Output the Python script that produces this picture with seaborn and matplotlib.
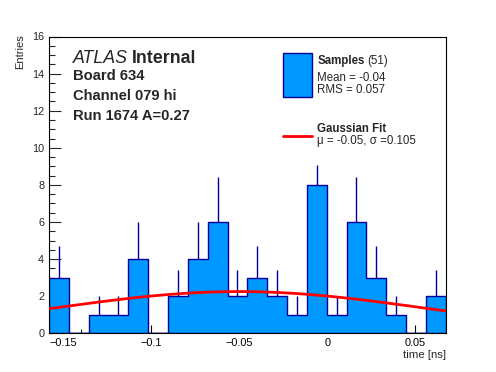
import numpy as np
import pandas as pd
import matplotlib
matplotlib.use("Agg")
import matplotlib.pyplot as plt
import seaborn as sns
from matplotlib.patches import Rectangle
from matplotlib.lines import Line2D
from matplotlib.ticker import MultipleLocator

# ---- data ----
x_min = -0.158
x_max = 0.0673
n_bins = 20
counts = [3, 0, 1, 1, 4, 0, 2, 4, 6, 2, 3, 2, 1, 8, 1, 6, 3, 1, 0, 2]
errors = [1.73, 0, 1.0, 1.0, 2.0, 0, 1.41, 2.0, 2.45, 1.41,
          1.73, 1.41, 1.0, 1.05, 1.0, 2.45, 1.73, 1.0, 0, 1.41]
fit_amp = 2.25
fit_mu = -0.05
fit_sigma = 0.105
x_ticks = [-0.15, -0.1, -0.05, 0, 0.05]
y_ticks = [0, 2, 4, 6, 8, 10, 12, 14, 16]

fill_c = "#0099ff"
edge_c = "#000099"

sns.set_style("ticks")
plt.rcParams["font.family"] = ["Liberation Sans", "DejaVu Sans"]

W, H = 496, 372
fig = plt.figure(figsize=(W / 100, H / 100), dpi=100)
ax = fig.add_axes([49 / W, 1 - 333.3 / H, (445.7 - 49) / W, (333.3 - 36.5) / H])

edges = np.linspace(x_min, x_max, n_bins + 1)
centers = 0.5 * (edges[:-1] + edges[1:])
df = pd.DataFrame({"time": centers, "n": counts, "err": errors})

sns.histplot(data=df, x="time", weights="n", bins=list(edges), element="step",
             fill=True, color=fill_c, edgecolor=edge_c, linewidth=1.0,
             alpha=1.0, ax=ax, legend=False)
for coll in ax.collections:
    coll.set_facecolor(fill_c)
    coll.set_alpha(1.0)
    coll.set_edgecolor(edge_c)
    coll.set_linewidth(1.0)

nz = df[df["err"] > 0]
ax.vlines(nz["time"], nz["n"], nz["n"] + nz["err"], color=edge_c, linewidth=1.0, zorder=3)

xf = np.linspace(x_min, x_max, 300)
yf = fit_amp * np.exp(-0.5 * ((xf - fit_mu) / fit_sigma) ** 2)
ax.plot(xf, yf, color="#ff0000", linewidth=2.0, zorder=4)

ax.set_xlim(x_min, x_max)
ax.set_ylim(0, 16)
ax.set_xticks(x_ticks)
ax.set_yticks(y_ticks)
ax.xaxis.set_minor_locator(MultipleLocator(0.01))
ax.yaxis.set_minor_locator(MultipleLocator(0.5))
ax.tick_params(axis="x", which="major", direction="in", length=6, width=0.8,
               labelsize=7.8, pad=3.5, colors="black")
ax.tick_params(axis="x", which="minor", direction="in", length=3, width=0.8)
ax.tick_params(axis="y", which="major", direction="in", length=8.5, width=0.8,
               labelsize=7.8, pad=3.5)
ax.tick_params(axis="y", which="minor", direction="in", length=4.5, width=0.8)
ax.xaxis.set_major_formatter(matplotlib.ticker.FuncFormatter(
    lambda v, p: ("\u2212" if v < 0 else "") + ("%g" % abs(v))))
for s in ax.spines.values():
    s.set_linewidth(0.8)
    s.set_color("black")

ax.set_xlabel("")
ax.set_ylabel("")

renderer = fig.canvas.get_renderer()

def ft(x, y, s, **kw):
    return fig.text(x / W, 1 - y / H, s, va="baseline", **kw)

def width_px(t):
    return t.get_window_extent(renderer=renderer).width

# axis titles
fig.text(445.7 / W, 1 - 358.5 / H, "time [ns]", ha="right", va="baseline", fontsize=8.2)
fig.text(20.5 / W, 1 - 34 / H, "Entries", rotation=90, ha="center", va="top", fontsize=8)

# ATLAS label block
t_atlas = ft(73.3, 62.7, "ATLAS", fontsize=12.8, style="italic")
ft(73.3 + width_px(t_atlas) + 4, 62.7, "Internal", fontsize=12.8, weight="bold")
ft(73.3, 80.5, "Board 634", fontsize=10.6, weight="bold")
ft(73.3, 100, "Channel 079 hi", fontsize=10.6, weight="bold")
ft(73.3, 119.5, "Run 1674 A=0.27", fontsize=10.6, weight="bold")

# legend (drawn manually)
fig.patches.append(Rectangle((283.3 / W, 1 - 96.7 / H), (311.7 - 283.3) / W, (96.7 - 53.3) / H,
                             transform=fig.transFigure, facecolor=fill_c, edgecolor=edge_c,
                             linewidth=1.0))
fig.lines.append(Line2D([283.3 / W, 311.7 / W], [1 - 136 / H, 1 - 136 / H],
                        transform=fig.transFigure, color="#ff0000", linewidth=2.0))
t_s = ft(317.3, 64.3, "Samples", fontsize=8.3, weight="bold")
ft(317.3 + width_px(t_s) + 2.5, 64.3, "(51)", fontsize=8.3)
ft(317.3, 80.7, "Mean = -0.04", fontsize=8.3)
ft(317.3, 93.3, "RMS = 0.057", fontsize=8.3)
ft(317.3, 131.7, "Gaussian Fit", fontsize=8.3, weight="bold")
ft(317.3, 144.3, "\u03bc = -0.05, \u03c3 =0.105", fontsize=8.3)

fig.savefig("out.png", dpi=100)
